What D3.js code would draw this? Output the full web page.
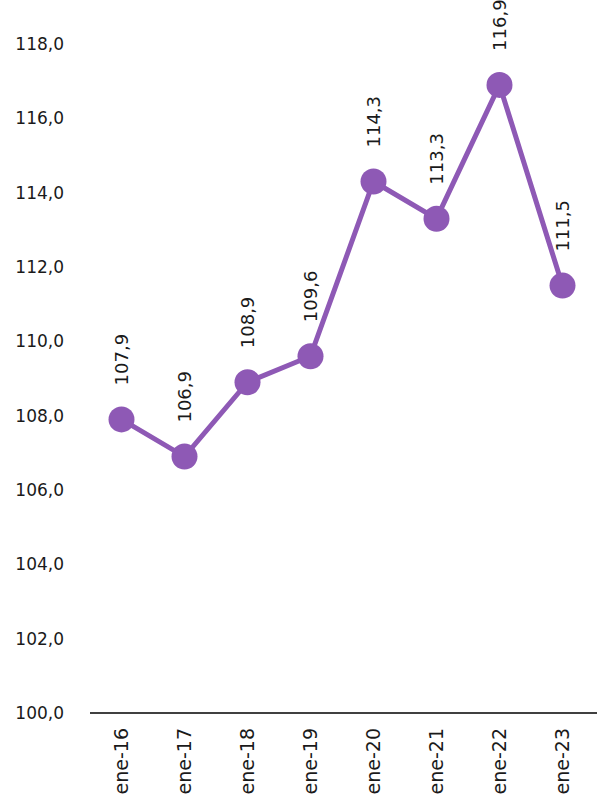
<!DOCTYPE html>
<meta charset="utf-8">
<style>
body { margin: 0; background: #fff; }
text { font-family: "DejaVu Sans", sans-serif; fill: #1a1a1a; }
</style>
<body>
<script src="https://cdn.jsdelivr.net/npm/d3@7"></script>
<script>

var categories = ["ene-16", "ene-17", "ene-18", "ene-19", "ene-20", "ene-21", "ene-22", "ene-23"];
var values = [107.9, 106.9, 108.9, 109.6, 114.3, 113.3, 116.9, 111.5];
var yTicks = [100, 102, 104, 106, 108, 110, 112, 114, 116, 118];

var width = 597, height = 811;
var purple = "#8e59b5";
var fmt = function(v) { return v.toFixed(1).replace(".", ","); };

var svg = d3.select("body").append("svg")
  .attr("width", width)
  .attr("height", height);

var x = d3.scaleBand().domain(categories).range([90, 594]);
var y = d3.scaleLinear().domain([100, 118]).range([713, 44]);

// y labels, no axis line
svg.selectAll(".ylab")
  .data(yTicks)
  .enter().append("text")
    .attr("x", 64)
    .attr("y", function(d) { return y(d); })
    .attr("dy", "0.35em")
    .attr("text-anchor", "end")
    .style("font-size", "17px")
    .text(fmt);

// x axis line
svg.append("line")
  .attr("x1", 90).attr("x2", 597)
  .attr("y1", y(100)).attr("y2", y(100))
  .attr("stroke", "#000")
  .attr("stroke-width", 1.5);

svg.selectAll(".xlab")
  .data(categories)
  .enter().append("text")
    .attr("transform", function(d) {
      return "translate(" + (x(d) + x.bandwidth() / 2) + "," + 728 + ") rotate(-90)";
    })
    .attr("dy", "0.35em")
    .attr("text-anchor", "end")
    .style("font-size", "19px")
    .text(function(d) { return d; });

var line = d3.line()
  .x(function(d, i) { return x(categories[i]) + x.bandwidth() / 2; })
  .y(function(d) { return y(d); });

svg.append("path")
  .datum(values)
  .attr("d", line)
  .attr("fill", "none")
  .attr("stroke", purple)
  .attr("stroke-width", 5);

svg.selectAll(".dot")
  .data(values)
  .enter().append("circle")
    .attr("cx", function(d, i) { return x(categories[i]) + x.bandwidth() / 2; })
    .attr("cy", function(d) { return y(d); })
    .attr("r", 13)
    .attr("fill", purple);

svg.selectAll(".vlab")
  .data(values)
  .enter().append("text")
    .attr("transform", function(d, i) {
      return "translate(" + (x(categories[i]) + x.bandwidth() / 2) + "," + (y(d) - 34) + ") rotate(-90)";
    })
    .attr("dy", "0.35em")
    .attr("text-anchor", "start")
    .style("font-size", "18px")
    .text(fmt);

</script>
</body>
